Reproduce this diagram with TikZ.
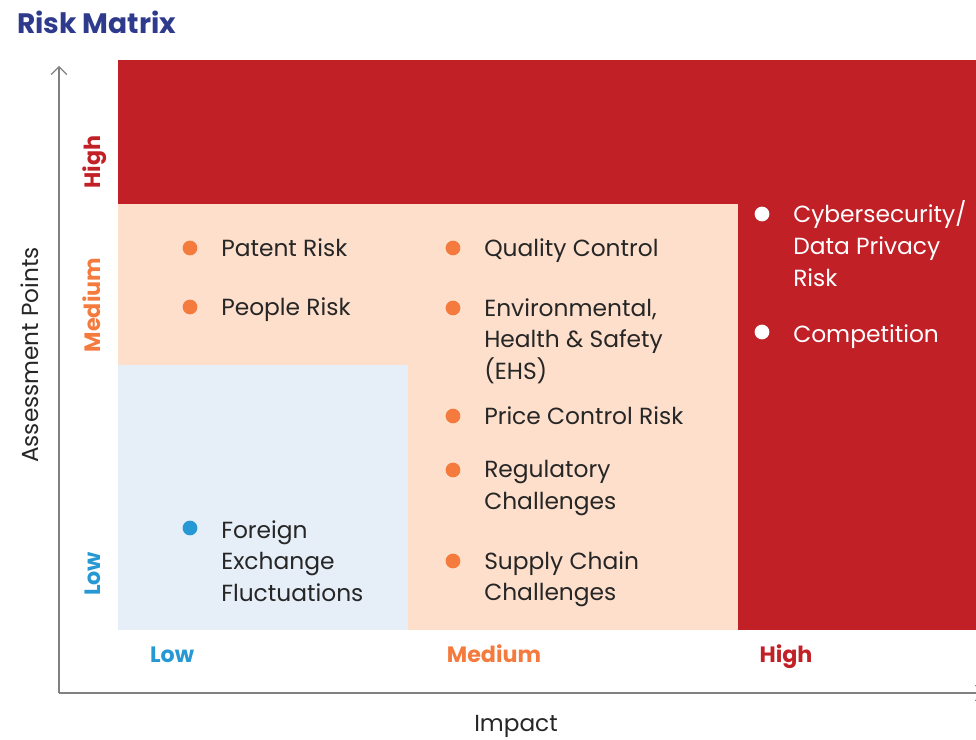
\documentclass[tikz,border=0pt]{standalone}
\usepackage{fontspec}
\setmainfont{Poppins}
\usetikzlibrary{arrows.meta}
\definecolor{riskred}{RGB}{193,32,39}
\definecolor{riskpeach}{RGB}{253,223,204}
\definecolor{riskblue}{RGB}{230,238,248}
\definecolor{dotorange}{RGB}{244,122,61}
\definecolor{dotblue}{RGB}{38,152,212}
\definecolor{titleblue}{RGB}{46,58,140}
\definecolor{axisgray}{RGB}{128,128,128}
\begin{document}
\begin{tikzpicture}[x=0.025cm, y=-0.025cm,
            dot/.style={circle, inner sep=0pt, minimum size=10.5pt},
            item/.style={anchor=north west, align=left, inner sep=0pt, text=black!85,
            font=\fontsize{16.6}{22.7}\selectfont},
            lvl/.style={inner sep=0pt, text height=11pt, text depth=0pt, font=\bfseries\fontsize{15.8}{18}\selectfont},
            axlab/.style={inner sep=0pt, text=black!85, text height=12pt, text depth=0pt, font=\fontsize{16.5}{20}\selectfont},
            axis/.style={axisgray, line width=1.3pt, -{Straight Barb[length=5.5pt, width=11pt, line width=0.8pt]}}]
            \useasboundingbox (0,0) rectangle (976,740);

            \fill[riskred] (118,60) rectangle (976,630);
            \fill[riskpeach] (118,204) rectangle (738,630);
            \fill[riskblue] (118,365) rectangle (408,630);

            \node[anchor=west, inner sep=0pt, text=titleblue, font=\bfseries\fontsize{20}{24}\selectfont] (title) at (17,22) {Risk Matrix};

            \coordinate (origin) at (59,693);
            \coordinate (ytop) at (59,66);
            \coordinate (xend) at (984,693);
            \draw[axis] (origin) to (ytop);
            \draw[axis] (origin) to (xend);

            \node[axlab, rotate=90] (ylab) at (30,355) {Assessment Points};
            \node[axlab] (xlab) at (516,723) {Impact};

            \node[lvl, rotate=90, text=riskred] (yhigh) at (93,162) {High};
            \node[lvl, rotate=90, text=dotorange] (ymed) at (93,305) {Medium};
            \node[lvl, rotate=90, text=dotblue] (ylow) at (93,574) {Low};

            \node[lvl, text=dotblue] (xlow) at (172,655) {Low};
            \node[lvl, text=dotorange] (xmed) at (494,655) {Medium};
            \node[lvl, text=riskred] (xhigh) at (786,655) {High};

            \node[dot, fill=dotorange] (d1) at (190,248) {};
            \node[item] (patent) at (221,238) {Patent Risk};
            \node[dot, fill=dotorange] (d2) at (190,307) {};
            \node[item] (people) at (221,297) {People Risk};
            \node[dot, fill=dotblue] (d3) at (190,528) {};
            \node[item] (forex) at (221,520) {Foreign\\Exchange\\Fluctuations};

            \node[dot, fill=dotorange] (d4) at (453,248) {};
            \node[item] (quality) at (484,238) {Quality Control};
            \node[dot, fill=dotorange] (d5) at (453,308) {};
            \node[item] (ehs) at (484,298) {Environmental,\\Health \& Safety\\(EHS)};
            \node[dot, fill=dotorange] (d6) at (453,416) {};
            \node[item] (price) at (484,406) {Price Control Risk};
            \node[dot, fill=dotorange] (d7) at (453,470) {};
            \node[item] (regul) at (484,460) {Regulatory\\Challenges};
            \node[dot, fill=dotorange] (d8) at (453,561) {};
            \node[item] (supply) at (484,551) {Supply Chain\\Challenges};

            \node[dot, fill=white] (d9) at (762,214) {};
            \node[item, text=white] (cyber) at (793,200) {Cybersecurity/\\Data Privacy\\Risk};
            \node[dot, fill=white] (d10) at (762,332) {};
            \node[item, text=white] (compet) at (793,324) {Competition};
        \end{tikzpicture}
\end{document}
